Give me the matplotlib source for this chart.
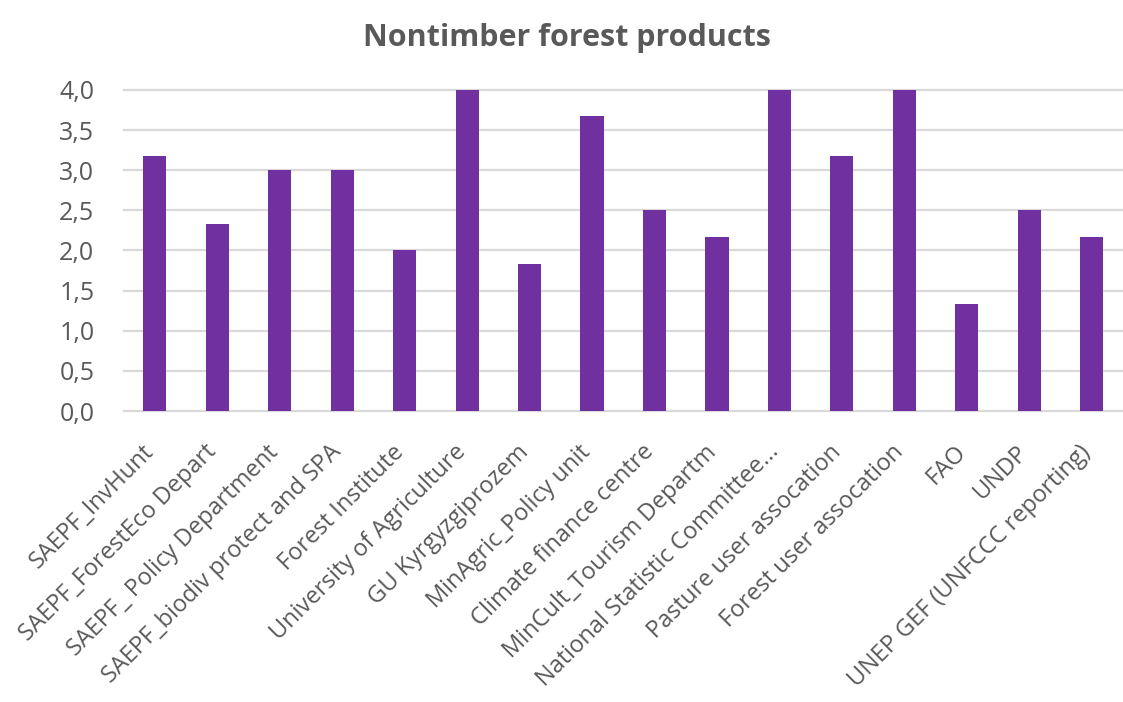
import matplotlib
matplotlib.use("Agg")
import matplotlib.pyplot as plt
from matplotlib.ticker import FuncFormatter
from matplotlib.transforms import ScaledTranslation

categories = [
    "SAEPF_InvHunt", "SAEPF_ForestEco Depart", "SAEPF_ Policy Department",
    "SAEPF_biodiv protect and SPA", "Forest Institute", "University of Agriculture",
    "GU Kyrgyzgiprozem", "MinAgric_Policy unit", "Climate finance centre",
    "MinCult_Tourism Departm", "National Statistic Committee...",
    "Pasture user assocation", "Forest user assocation", "FAO", "UNDP",
    "UNEP GEF (UNFCCC reporting)",
]
values = [3.17, 2.33, 3.0, 3.0, 2.0, 4.0, 1.83, 3.67, 2.5, 2.17, 4.0, 3.17, 4.0, 1.33, 2.5, 2.17]
yticks = [0.0, 0.5, 1.0, 1.5, 2.0, 2.5, 3.0, 3.5, 4.0]
title = "Nontimber forest products"

plt.rcParams['font.family'] = ['Open Sans', 'DejaVu Sans']
txt = '#595959'

fig = plt.figure(figsize=(11.23, 7.02), dpi=100)
ax = fig.add_axes([0.110, 0.4145, 0.890, 0.4575])
x = range(len(categories))
ax.bar(x, values, width=0.37, color='#7030a0', zorder=3)
ax.set_xlim(-0.5, len(categories) - 0.5)
ax.set_ylim(0, 4.0)
ax.set_yticks(yticks)
ax.yaxis.set_major_formatter(FuncFormatter(lambda v, p: f"{v:.1f}".replace('.', ',')))
ax.grid(axis='y', color='#d9d9d9', linewidth=1.6, zorder=0)
for gl in ax.get_ygridlines():
    gl.set_clip_on(False)
for s in ax.spines.values():
    s.set_visible(False)
ax.tick_params(axis='both', length=0, colors=txt)
ax.tick_params(axis='y', pad=21, labelsize=18)
ax.set_xticks(list(x))
ax.set_xticklabels(categories, rotation=45, ha='right', rotation_mode='anchor', fontsize=17, color=txt)
ax.tick_params(axis='x', pad=21)
shift = ScaledTranslation(-0.13, 0, fig.dpi_scale_trans)
for lbl in ax.get_xticklabels():
    lbl.set_transform(lbl.get_transform() + shift)
fig.text(0.505, 0.946, title, ha='center', va='center', fontsize=22, fontweight='bold', color=txt)
fig.savefig("out.png", dpi=100)
